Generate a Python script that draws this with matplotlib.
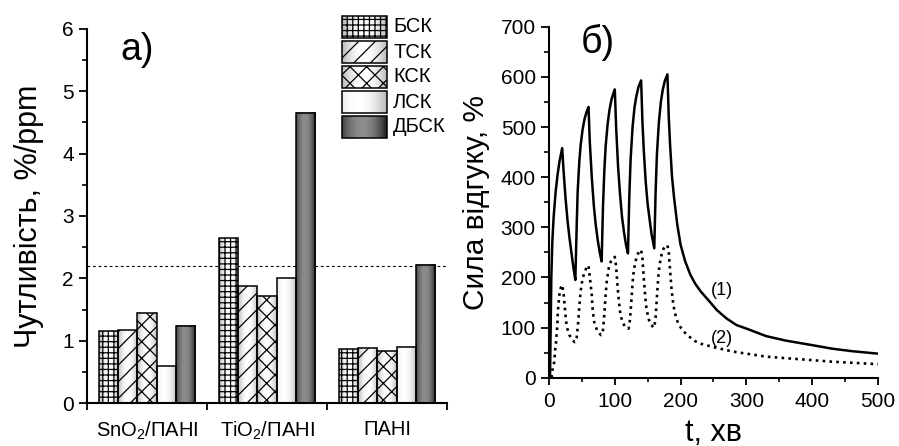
import numpy as np
import matplotlib
matplotlib.use('Agg')
import matplotlib.pyplot as plt
from matplotlib.patches import Rectangle
from matplotlib.ticker import MultipleLocator

plt.rcParams['font.family'] = ['Liberation Sans', 'DejaVu Sans']
plt.rcParams['mathtext.fontset'] = 'custom'
plt.rcParams['mathtext.rm'] = 'Liberation Sans'
plt.rcParams['mathtext.it'] = 'Liberation Sans:italic'
plt.rcParams['hatch.linewidth'] = 0.9

# --- sensitivity of the three films to each compound
groups = ['SnO$_2$/ПАНІ', 'TiO$_2$/ПАНІ', 'ПАНІ']
series = ['БСК', 'ТСК', 'КСК', 'ЛСК', 'ДБСК']
bsk = [1.15, 2.64, 0.86]
tsk = [1.17, 1.87, 0.89]
ksk = [1.45, 1.72, 0.84]
lsk = [0.59, 2.00, 0.90]
dbsk = [1.24, 4.66, 2.22]
threshold = 2.2

# --- response vs time, curve (1)
t1 = [1.5, 2.5, 3.5, 5, 7, 10, 13, 16, 20,
      22, 25, 28, 31, 34, 37, 40,
      42, 43.5, 46, 48, 51, 54, 57, 60,
      62, 65, 68, 71, 74, 77, 80,
      82, 84, 86, 89, 92, 95, 98, 100,
      102, 105, 108, 111, 114, 117, 120,
      122, 124, 127, 130, 133, 136, 140,
      142, 144, 147, 150, 153, 156, 160,
      162, 164, 167, 170, 173, 176, 180,
      182, 184, 187, 190, 195, 200, 207, 215, 222, 230, 242, 255, 270,
      285, 300, 330, 360, 400, 430, 460, 500]
r1 = [0, 100, 200, 270, 320, 370, 405, 432, 458,
      415, 360, 315, 280, 250, 220, 195,
      300, 370, 430, 463, 495, 516, 530, 540,
      470, 400, 345, 305, 275, 250, 232,
      340, 410, 460, 505, 535, 555, 568, 575,
      500, 420, 365, 320, 290, 265, 248,
      360, 435, 500, 540, 563, 580, 593,
      510, 455, 390, 345, 315, 285, 258,
      370, 445, 510, 550, 575, 592, 605,
      520, 465, 400, 360, 305, 265, 232, 205, 188, 173, 155, 135, 118,
      105, 98, 83, 74, 65, 58, 53, 48]

# --- response vs time, curve (2)
t2 = [4, 5, 8, 9, 10.6, 11.6, 12.7, 13.2, 14.2, 16, 18, 20,
      22, 24, 26, 28, 31, 35, 39,
      40, 42, 44, 46, 48, 51, 54, 57, 60,
      62, 64.8, 66.4, 69, 74, 79,
      80, 82, 84, 86, 88, 91, 94, 97, 100,
      102, 104, 106, 108, 111, 115, 120,
      121, 123, 125, 127, 129, 132, 135, 138, 140,
      142, 144, 146, 148, 151, 155, 159,
      160, 162, 164, 166, 168, 171, 174, 177, 180,
      182, 184, 186, 189, 193, 197, 203, 210, 222, 230, 250, 280,
      330, 380, 430, 500]
r2 = [0, 14, 32, 52, 69, 88, 105, 125, 145, 168, 180, 185,
      170, 140, 112, 97, 85, 76, 71,
      72, 80, 105, 140, 172, 198, 210, 220, 224,
      200, 168, 135, 108, 92, 85,
      86, 95, 125, 165, 195, 220, 232, 238, 241,
      222, 185, 155, 132, 113, 103, 98,
      98, 115, 150, 190, 215, 235, 247, 253, 255,
      238, 200, 165, 140, 118, 106, 100,
      100, 120, 160, 200, 225, 245, 257, 263, 264,
      250, 215, 180, 145, 120, 106, 95, 85, 73, 68, 61, 52,
      42, 37, 32, 27]

styles = {
    'БСК': dict(hatch='+++', lo=0.72, hi=1.0, peak=0.5),
    'ТСК': dict(hatch='//', lo=0.72, hi=1.0, peak=0.5),
    'КСК': dict(hatch='xx', lo=0.72, hi=1.0, peak=0.5),
    'ЛСК': dict(hatch='', lo=0.72, hi=1.0, peak=0.35),
    'ДБСК': dict(hatch='', lo=0.12, hi=0.55, peak=0.45),
}


def shade(ax, x0, x1, y0, y1, lo, hi, peak, z=1):
    # cylinder-like grey gradient across the width of a box
    u = np.linspace(0, 1, 64)
    g = lo + (hi - lo) * np.clip(1 - ((u - peak) / max(peak, 1 - peak)) ** 2, 0, 1)
    ax.imshow(g[None, :], extent=[x0, x1, y0, y1], cmap='gray', vmin=0, vmax=1,
              aspect='auto', interpolation='bilinear', zorder=z)


fig = plt.figure(figsize=(8.99, 4.46), dpi=100)
ax = fig.add_axes([0.0968, 0.0964, 0.4004, 0.8386])
ax2 = fig.add_axes([0.6107, 0.1531, 0.3659, 0.7869])

# ---------------- a) bar chart
x = np.arange(len(groups))
w = 0.16
for i, (name, vals) in enumerate(zip(series, [bsk, tsk, ksk, lsk, dbsk])):
    st = styles[name]
    bars = ax.bar(x + (i - 2) * w, vals, width=w, facecolor='none', edgecolor='black',
                  hatch=st['hatch'], linewidth=1.1, zorder=3)
    for rect in bars:
        shade(ax, rect.get_x(), rect.get_x() + rect.get_width(), 0, rect.get_height(),
              st['lo'], st['hi'], st['peak'])

ax.axhline(threshold, color='black', ls=(0, (2.5, 2.5)), lw=0.8, zorder=0.5)
ax.set_xlim(-0.5, 2.5)
ax.set_ylim(0, 6)
ax.set_xticks([-0.5, 0.5, 1.5, 2.5], labels=['', '', '', ''])
ax.set_xticks(x, labels=groups, minor=True)
ax.yaxis.set_major_locator(MultipleLocator(1))
ax.yaxis.set_minor_locator(MultipleLocator(0.5))
ax.set_ylabel('Чутливість, %/ppm', fontsize=22, labelpad=13)
ax.text(0.139, 0.944, 'а)', transform=ax.transAxes, fontsize=27, ha='center', va='center')

# ---------------- б) response curves
ax2.plot(t1, r1, color='black', lw=1.8, solid_joinstyle='round')
ax2.plot(t2, r2, color='black', lw=1.9, ls=(0, (1, 1.6)))
ax2.set_xlim(0, 500)
ax2.set_ylim(0, 700)
ax2.xaxis.set_major_locator(MultipleLocator(100))
ax2.xaxis.set_minor_locator(MultipleLocator(50))
ax2.yaxis.set_major_locator(MultipleLocator(100))
ax2.yaxis.set_minor_locator(MultipleLocator(50))
ax2.set_xlabel('t, хв', fontsize=22, labelpad=5)
ax2.set_ylabel('Сила відгуку, %', fontsize=21.5, labelpad=8)
ax2.text(263, 173, '(1)', fontsize=13, ha='center', va='center')
ax2.text(263, 79, '(2)', fontsize=13, ha='center', va='center')
ax2.text(0.149, 0.956, 'б)', transform=ax2.transAxes, fontsize=27, ha='center', va='center')

for a in (ax, ax2):
    for side in ('top', 'right'):
        a.spines[side].set_visible(False)
    for side in ('left', 'bottom'):
        a.spines[side].set_linewidth(1.5)
    a.tick_params(which='major', direction='out', width=1.3, labelsize=15)
    a.tick_params(axis='y', which='major', length=6)
    a.tick_params(which='minor', direction='out', width=1.2)
    a.tick_params(axis='y', which='minor', length=3.5)
ax2.tick_params(axis='x', which='major', length=5, pad=5)
ax2.tick_params(axis='x', which='minor', length=3)
ax.tick_params(axis='x', which='major', length=5)
ax.tick_params(axis='x', which='minor', length=0, labelsize=14.5, pad=12)

# ---------------- legend for a), in pixel space
leg = fig.add_axes([0, 0, 1, 1], zorder=5)
for k, name in enumerate(series):
    st = styles[name]
    top = 16 + 25 * k
    shade(leg, 342, 387, top + 22, top, st['lo'], st['hi'], st['peak'], z=1)
    leg.add_patch(Rectangle((342, top), 45, 22, facecolor='none', edgecolor='black',
                            hatch=st['hatch'], lw=1.1, zorder=2))
    leg.text(393, top + 11, name, fontsize=14.5, ha='left', va='center')
leg.set_xlim(0, 899)
leg.set_ylim(446, 0)
leg.axis('off')

fig.savefig('out.png', dpi=100)
